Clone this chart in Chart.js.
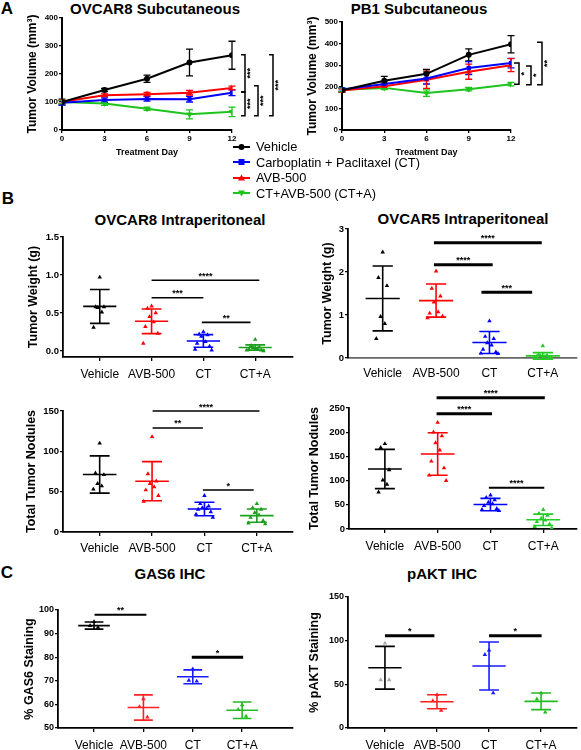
<!DOCTYPE html>
<html>
<head>
<meta charset="utf-8">
<title>AVB-500 tumour models</title>
<script src="https://cdn.jsdelivr.net/npm/chart.js@4.4.1/dist/chart.umd.min.js"></script>
<style>
body { margin: 0; background: #fff; }
#page { position: relative; width: 581px; height: 750px; overflow: hidden; font-family: "Liberation Sans", Arial, sans-serif; color: #000; }
#page canvas { position: absolute; }
.lbl { position: absolute; transform: translate(-50%, -50%); font-weight: bold; white-space: nowrap; line-height: 1; }
.title { font-size: 15px; }
.panel { font-size: 17px; }
#legend { position: absolute; left: 233px; top: 139px; font-size: 12.8px; line-height: 15.5px; z-index: 2; }
#legend div { display: flex; align-items: center; white-space: nowrap; height: 15.5px; }
#legend svg { margin-right: 6px; }
</style>
</head>
<body>
<div id="page">
  <div class="lbl panel" style="left:7px;top:8px">A</div>
  <div class="lbl title" style="left:155px;top:8px">OVCAR8 Subcutaneous</div>
  <div class="lbl title" style="left:419px;top:8px">PB1 Subcutaneous</div>
  <div class="lbl panel" style="left:8px;top:198px">B</div>
  <div class="lbl title" style="left:180px;top:219px">OVCAR8 Intraperitoneal</div>
  <div class="lbl title" style="left:463px;top:218px">OVCAR5 Intraperitoneal</div>
  <div class="lbl panel" style="left:7px;top:572px">C</div>
  <div class="lbl title" style="left:170px;top:573px">GAS6 IHC</div>
  <div class="lbl title" style="left:442px;top:573px">pAKT IHC</div>
  <div id="legend"></div>
  <canvas id="c1"></canvas>
  <canvas id="c2"></canvas>
  <canvas id="c3"></canvas>
  <canvas id="c4"></canvas>
  <canvas id="c5"></canvas>
  <canvas id="c6"></canvas>
  <canvas id="c7"></canvas>
  <canvas id="c8"></canvas>
</div>
<script>
// ---- panel A: subcutaneous growth curves (mean, error) ----
const days = [0, 3, 6, 9, 12];
const scGroups = ['Vehicle', 'Carboplatin + Paclitaxel (CT)', 'AVB-500', 'CT+AVB-500 (CT+A)'];

const ov8ScVehicle = [100, 143, 183, 241, 267];
const ov8ScVehicleErr = [10, 6, 13, 48, 50];
const ov8ScCT = [97, 107, 111, 110, 133];
const ov8ScCTErr = [8, 8, 8, 10, 10];
const ov8ScAVB = [101, 124, 128, 133, 150];
const ov8ScAVBErr = [6, 5, 6, 8, 7];
const ov8ScCTA = [100, 95, 76, 56, 65];
const ov8ScCTAErr = [6, 7, 6, 16, 17];
// [upper value, lower value, label, column]
const ov8ScBrackets = [[269, 136, '***', 0], [136, 51, '***', 0], [158, 51, '***', 1], [269, 51, '***', 2]];

const pb1ScVehicle = [184, 228, 260, 348, 397];
const pb1ScVehicleErr = [8, 20, 20, 28, 40];
const pb1ScCT = [188, 213, 238, 287, 310];
const pb1ScCTErr = [8, 10, 25, 30, 22];
const pb1ScAVB = [183, 203, 233, 270, 300];
const pb1ScAVBErr = [8, 12, 40, 35, 30];
const pb1ScCTA = [186, 195, 171, 189, 212];
const pb1ScCTAErr = [8, 8, 15, 8, 8];
const pb1ScBrackets = [[310, 212, '*', 0], [296, 210, '*', 1], [406, 210, '**', 2]];

// ---- panels B, C: individual animals + mean / SD ----
const ipGroups = ['Vehicle', 'AVB-500', 'CT', 'CT+A'];

const ov8WtVehicle = [0.97, 0.58, 0.58, 0.57, 0.51, 0.31];
const ov8WtAVB = [0.59, 0.56, 0.50, 0.45, 0.38, 0.32, 0.23, 0.10];
const ov8WtCT = [0.25, 0.22, 0.21, 0.19, 0.12, 0.10, 0.06, 0.02, 0.01];
const ov8WtCTA = [0.15, 0.07, 0.05, 0.04, 0.03, 0.02, 0.01, 0.01, 0.00];
const ov8WtMean = [0.586, 0.39, 0.131, 0.045];
const ov8WtSD = [0.223, 0.162, 0.083, 0.035];
// [from group pos, to group pos, y value, label]
const ov8WtSig = [[1.0, 3.08, 0.93, '****'], [1.0, 2.0, 0.70, '***'], [1.97, 2.91, 0.376, '**']];

const ov5WtVehicle = [2.46, 1.87, 1.68, 0.96, 0.80, 0.45];
const ov5WtAVB = [2.02, 1.62, 1.44, 1.30, 1.07, 1.04, 0.97, 0.93];
const ov5WtCT = [0.86, 0.50, 0.45, 0.35, 0.30, 0.20, 0.14, 0.11, 0.10];
const ov5WtCTA = [0.28, 0.08, 0.06, 0.05, 0.04, 0.03, 0.02, 0.01, 0.00];
const ov5WtMean = [1.385, 1.335, 0.36, 0.05];
const ov5WtSD = [0.755, 0.385, 0.255, 0.075];
const ov5WtSig = [[0.96, 2.98, 2.68, '****'], [0.96, 2.06, 2.17, '****'], [1.85, 2.8, 1.53, '***']];

const ov8NodVehicle = [110, 73, 71, 60, 57, 53];
const ov8NodAVB = [118, 72, 63, 60, 56, 52, 45, 38];
const ov8NodCT = [45, 35, 32, 30, 29, 28, 25, 22, 18];
const ov8NodCTA = [35, 30, 28, 24, 21, 18, 14, 11, 10];
const ov8NodMean = [71.3, 63, 28.5, 20.3];
const ov8NodSD = [23.1, 24.3, 8.3, 8.2];
const ov8NodSig = [[1.01, 3.05, 150, '****'], [1.01, 1.97, 129, '**'], [1.97, 2.94, 52, '*']];

const ov5NodVehicle = [176, 168, 122, 101, 92, 76];
const ov5NodAVB = [220, 200, 192, 178, 163, 140, 126, 111, 100];
const ov5NodCT = [70, 65, 60, 55, 52, 48, 42, 40, 38];
const ov5NodCTA = [40, 32, 28, 22, 18, 15, 10, 5, 2];
const ov5NodMean = [124, 155, 50.5, 19];
const ov5NodSD = [40.5, 44, 12.7, 11.7];
const ov5NodSig = [[0.98, 3.03, 271, '****'], [0.98, 2.03, 238, '****'], [1.97, 3.02, 85, '****']];

const gasVehicle = [95.0, 93.3, 92.6];
const gasAVB = [62.3, 59.0, 54.6];
const gasCT = [75.0, 70.2, 69.8];
const gasCTA = [59.8, 57.8, 54.9];
const gasMean = [93.4, 58.7, 71.7, 57.5];
const gasSD = [1.5, 5.35, 2.95, 3.5];
const gasSig = [[0.01, 1.06, 98, '**'], [1.98, 3.02, 80, '*']];

const aktVehicle = [97, 55, 55];
const aktAVB = [38, 31, 20];
const aktCT = [89, 84, 40];
const aktCTA = [40, 33, 18];
const aktMean = [69, 30, 71, 30.5];
const aktSD = [24.5, 8, 27.5, 9.5];
const aktSig = [[0, 0.95, 105.6, '*'], [2.0, 3.01, 105.6, '*']];

// ---- styles ----
const FONT = '"Liberation Sans", Arial, sans-serif';
Chart.defaults.font.family = FONT;
Chart.defaults.color = '#000';
Chart.defaults.animation = false;

const scColors = ['#000000', '#0000ff', '#ff0000', '#1cc41c'];
const scMarkers = ['circle', 'rect', 'triangle', 'triangle'];
const spread = [0, -0.08, 0.08, -0.04, 0.04, -0.12, 0.12, -0.16, 0.16];

function fixW(w) { return function (s) { s.width = w; }; }
function fixH(h) { return function (s) { s.height = h; }; }

function place(id, left, top, w, h) {
    const c = document.getElementById(id);
    c.width = w;
    c.height = h;
    c.style.left = left + 'px';
    c.style.top = top + 'px';
    return c;
}

function errorBars(errs) {
    return {
        id: 'errorBars',
        beforeDatasetsDraw(chart) {
            const ctx = chart.ctx, x = chart.scales.x, y = chart.scales.y;
            chart.data.datasets.forEach((ds, k) => {
                ctx.save();
                ctx.strokeStyle = ds.borderColor;
                ctx.lineWidth = 1.3;
                ds.data.forEach((p, i) => {
                    const px = x.getPixelForValue(p.x);
                    const top = y.getPixelForValue(p.y + errs[k][i]);
                    const bot = y.getPixelForValue(p.y - errs[k][i]);
                    ctx.beginPath();
                    ctx.moveTo(px, top); ctx.lineTo(px, bot);
                    ctx.moveTo(px - 3.5, top); ctx.lineTo(px + 3.5, top);
                    ctx.moveTo(px - 3.5, bot); ctx.lineTo(px + 3.5, bot);
                    ctx.stroke();
                });
                ctx.restore();
            });
        }
    };
}

function brackets(list, cols, tick) {
    return {
        id: 'brackets',
        afterDraw(chart) {
            const ctx = chart.ctx, y = chart.scales.y, right = chart.chartArea.right;
            ctx.save();
            ctx.strokeStyle = '#000';
            ctx.fillStyle = '#000';
            ctx.lineWidth = 1.5;
            ctx.font = 'bold 9px ' + FONT;
            ctx.textAlign = 'center';
            ctx.textBaseline = 'middle';
            list.forEach(([hi, lo, label, col]) => {
                const bx = right + cols[col];
                const t = y.getPixelForValue(hi), b = y.getPixelForValue(lo);
                ctx.beginPath();
                ctx.moveTo(bx - tick, t); ctx.lineTo(bx, t); ctx.lineTo(bx, b); ctx.lineTo(bx - tick, b);
                ctx.stroke();
                ctx.save();
                ctx.translate(bx + 6, (t + b) / 2);
                ctx.rotate(-Math.PI / 2);
                ctx.fillText(label, 0, 0);
                ctx.restore();
            });
            ctx.restore();
        }
    };
}

function growthChart(id, box, series, errs, yMax, list, cols, tick) {
    const c = place(id, box.left, box.top, box.w, box.h);
    const datasets = series.map((s, k) => ({
        label: scGroups[k],
        data: days.map((d, i) => ({ x: d, y: s[i] })),
        showLine: true,
        borderColor: scColors[k],
        backgroundColor: scColors[k],
        borderWidth: 2,
        pointStyle: scMarkers[k],
        pointRotation: k === 3 ? 180 : 0,
        pointRadius: k >= 2 ? 3.6 : 3,
        pointBorderWidth: 0
    }));
    new Chart(c, {
        type: 'scatter',
        data: { datasets: datasets },
        options: {
            responsive: false,
            layout: { padding: { top: 10, right: box.pr, left: 0, bottom: 0 } },
            plugins: { legend: { display: false }, tooltip: { enabled: false } },
            scales: {
                x: {
                    type: 'linear', min: 0, max: 12, afterFit: fixH(box.xh),
                    ticks: { stepSize: 3, font: { size: 8, weight: 'bold' }, padding: 1, color: '#000' },
                    grid: { drawOnChartArea: false, tickLength: 3, color: '#000', lineWidth: 1.3 },
                    border: { color: '#000', width: 2 },
                    title: { display: true, text: 'Treatment Day', font: { size: 9, weight: 'bold' }, padding: 0, color: '#000' }
                },
                y: {
                    min: 0, max: yMax, afterFit: fixW(box.yw),
                    ticks: { stepSize: 100, font: { size: 8, weight: 'bold' }, padding: 1, color: '#000' },
                    grid: { drawOnChartArea: false, tickLength: 3, color: '#000', lineWidth: 1.3 },
                    border: { color: '#000', width: 2 },
                    title: { display: true, text: 'Tumor Volume (mm³)', font: { size: 12, weight: 'bold' }, padding: 0, color: '#000' }
                }
            }
        },
        plugins: [errorBars(errs), brackets(list, cols, tick)]
    });
}

function meanSd(mean, sd, lineColors, sigs, sigWidths) {
    return {
        id: 'meanSd',
        afterDatasetsDraw(chart) {
            const ctx = chart.ctx, x = chart.scales.x, y = chart.scales.y;
            ctx.save();
            ctx.lineWidth = 1.6;
            mean.forEach((m, i) => {
                const cx = x.getPixelForValue(i);
                const hw = x.getPixelForValue(i + 0.32) - cx;
                const cw = x.getPixelForValue(i + 0.19) - cx;
                const ym = y.getPixelForValue(m);
                const yt = y.getPixelForValue(m + sd[i]);
                const yb = y.getPixelForValue(m - sd[i]);
                ctx.strokeStyle = lineColors[i];
                ctx.beginPath();
                ctx.moveTo(cx - hw, ym); ctx.lineTo(cx + hw, ym);
                ctx.moveTo(cx, yt); ctx.lineTo(cx, yb);
                ctx.moveTo(cx - cw, yt); ctx.lineTo(cx + cw, yt);
                ctx.moveTo(cx - cw, yb); ctx.lineTo(cx + cw, yb);
                ctx.stroke();
            });
            ctx.strokeStyle = '#000';
            ctx.fillStyle = '#000';
            ctx.font = 'bold 9px ' + FONT;
            ctx.textAlign = 'center';
            ctx.textBaseline = 'alphabetic';
            sigs.forEach(([a, b, v, label], k) => {
                const x1 = x.getPixelForValue(a), x2 = x.getPixelForValue(b), py = y.getPixelForValue(v);
                ctx.lineWidth = sigWidths[k];
                ctx.beginPath();
                ctx.moveTo(x1, py); ctx.lineTo(x2, py);
                ctx.stroke();
                ctx.fillText(label, (x1 + x2) / 2, py - 1.5);
            });
            ctx.restore();
        }
    };
}

function dotChart(cfg) {
    const c = place(cfg.id, cfg.left, cfg.top, cfg.w, cfg.h);
    const datasets = cfg.values.map((vals, i) => ({
        data: vals.map((v, k) => ({ x: i + spread[k % spread.length], y: v })),
        pointStyle: 'triangle',
        pointRadius: 2.6,
        backgroundColor: cfg.pointColors[i],
        borderWidth: 0
    }));
    new Chart(c, {
        type: 'scatter',
        data: { datasets: datasets },
        options: {
            responsive: false,
            layout: { padding: { top: cfg.pt, right: cfg.pr, left: 0, bottom: 0 } },
            plugins: { legend: { display: false }, tooltip: { enabled: false } },
            scales: {
                x: {
                    type: 'linear', min: cfg.xMin, max: cfg.xMax, afterFit: fixH(cfg.xh),
                    afterBuildTicks: s => { s.ticks = ipGroups.map((g, i) => ({ value: i })); },
                    ticks: { callback: (v, i) => ipGroups[i], font: { size: 12 }, padding: cfg.xPad, autoSkip: false, maxRotation: 0, color: '#000' },
                    grid: { drawOnChartArea: false, drawTicks: cfg.xTicks, tickLength: 4, color: '#000', lineWidth: 1.3 },
                    border: { color: cfg.xBorder || '#000', width: 1.8, dash: cfg.xDash || [] }
                },
                y: {
                    min: cfg.yMin, max: cfg.yMax, afterFit: fixW(cfg.yw),
                    afterBuildTicks: s => { s.ticks = cfg.yTicks.map(v => ({ value: v })); },
                    ticks: { callback: cfg.yFmt || (v => v), font: { size: cfg.tickSize, weight: 'bold' }, padding: 1, color: '#000' },
                    grid: { drawOnChartArea: false, tickLength: 3, color: '#000', lineWidth: 1.3 },
                    border: { color: '#000', width: 1.8 },
                    title: { display: true, text: cfg.yTitle, font: { size: 12.5, weight: 'bold' }, padding: 0, color: '#000' }
                }
            }
        },
        plugins: [meanSd(cfg.mean, cfg.sd, cfg.lineColors, cfg.sigs, cfg.sigWidths)]
    });
}

// ---- legend (panel A) ----
function markerSvg(k) {
    const col = scColors[k];
    let shape;
    if (k === 0) shape = '<circle cx="8.5" cy="5" r="3" fill="' + col + '"/>';
    else if (k === 1) shape = '<rect x="5.5" y="2" width="6" height="6" fill="' + col + '"/>';
    else if (k === 2) shape = '<polygon points="8.5,1.5 12,7.5 5,7.5" fill="' + col + '"/>';
    else shape = '<polygon points="8.5,8.5 12,2.5 5,2.5" fill="' + col + '"/>';
    return '<svg width="17" height="10"><line x1="0" y1="5" x2="17" y2="5" stroke="' + col + '" stroke-width="2"/>' + shape + '</svg>';
}
const legend = document.getElementById('legend');
scGroups.forEach((g, k) => {
    const row = document.createElement('div');
    row.innerHTML = markerSvg(k) + '<span>' + g + '</span>';
    legend.appendChild(row);
});

// ---- charts ----
growthChart('c1', { left: 25, top: 8, w: 265, h: 150, pr: 58, yw: 37, xh: 28 },
    [ov8ScVehicle, ov8ScCT, ov8ScAVB, ov8ScCTA],
    [ov8ScVehicleErr, ov8ScCTErr, ov8ScAVBErr, ov8ScCTAErr],
    400, ov8ScBrackets, [13, 26, 41], 4);

growthChart('c2', { left: 305, top: 12, w: 276, h: 146, pr: 70, yw: 37, xh: 28 },
    [pb1ScVehicle, pb1ScCT, pb1ScAVB, pb1ScCTA],
    [pb1ScVehicleErr, pb1ScCTErr, pb1ScAVBErr, pb1ScCTAErr],
    500, pb1ScBrackets, [8, 20, 31], 5);

const bColors = ['#000000', '#ff0000', '#0000ff', '#1e9e1e'];
const b2Colors = ['#000000', '#ff0000', '#0000ff', '#22cc22'];
const cColors = ['#000000', '#ff2020', '#1a1aff', '#22bb22'];

dotChart({ id: 'c3', left: 26, top: 227, w: 272, h: 160, pt: 10, pr: 5, yw: 37, xh: 30,
    xMin: -0.71, xMax: 3.73, yMin: -0.08, yMax: 1.5, yTicks: [0, 0.5, 1, 1.5], yFmt: v => v.toFixed(1),
    xPad: 6, xTicks: true, tickSize: 9.5, yTitle: 'Tumor Weight (g)',
    values: [ov8WtVehicle, ov8WtAVB, ov8WtCT, ov8WtCTA], mean: ov8WtMean, sd: ov8WtSD,
    pointColors: bColors, lineColors: bColors, sigs: ov8WtSig, sigWidths: [1.6, 1.6, 1.6] });

dotChart({ id: 'c4', left: 320, top: 219, w: 261, h: 169, pt: 10, pr: 4, yw: 28, xh: 30,
    xMin: -0.65, xMax: 3.64, yMin: 0, yMax: 3, yTicks: [0, 1, 2, 3],
    xPad: 8, xTicks: false, xDash: [2, 2], xBorder: '#666', tickSize: 9.5, yTitle: 'Tumor Weight (g)',
    values: [ov5WtVehicle, ov5WtAVB, ov5WtCT, ov5WtCTA], mean: ov5WtMean, sd: ov5WtSD,
    pointColors: b2Colors, lineColors: b2Colors, sigs: ov5WtSig, sigWidths: [3, 3, 3] });

dotChart({ id: 'c5', left: 24, top: 396, w: 274, h: 164, pt: 15, pr: 5, yw: 39, xh: 28,
    xMin: -0.70, xMax: 3.69, yMin: 0, yMax: 150, yTicks: [0, 50, 100, 150],
    xPad: 5, xTicks: true, tickSize: 9.5, yTitle: 'Total Tumor Nodules',
    values: [ov8NodVehicle, ov8NodAVB, ov8NodCT, ov8NodCTA], mean: ov8NodMean, sd: ov8NodSD,
    pointColors: bColors, lineColors: bColors, sigs: ov8NodSig, sigWidths: [1.6, 1.6, 1.6] });

dotChart({ id: 'c6', left: 307, top: 385, w: 274, h: 172, pt: 23, pr: 4, yw: 42, xh: 28,
    xMin: -0.68, xMax: 3.64, yMin: 0, yMax: 250, yTicks: [0, 50, 100, 150, 200, 250],
    xPad: 6, xTicks: true, tickSize: 9.5, yTitle: 'Total Tumor Nodules',
    values: [ov5NodVehicle, ov5NodAVB, ov5NodCT, ov5NodCTA], mean: ov5NodMean, sd: ov5NodSD,
    pointColors: b2Colors, lineColors: b2Colors, sigs: ov5NodSig, sigWidths: [3, 3, 2] });

dotChart({ id: 'c7', left: 22, top: 598, w: 276, h: 152, pt: 12, pr: 5, yw: 36, xh: 22,
    xMin: -0.73, xMax: 4.03, yMin: 50, yMax: 100, yTicks: [50, 60, 70, 80, 90, 100],
    xPad: 6, xTicks: true, tickSize: 9, yTitle: '% GAS6 Staining',
    values: [gasVehicle, gasAVB, gasCT, gasCTA], mean: gasMean, sd: gasSD,
    pointColors: cColors, lineColors: cColors, sigs: gasSig, sigWidths: [2, 3] });

dotChart({ id: 'c8', left: 307, top: 585, w: 274, h: 165, pt: 12, pr: 0, yw: 41, xh: 22,
    xMin: -0.71, xMax: 3.69, yMin: 0, yMax: 150, yTicks: [0, 50, 100, 150],
    xPad: 6, xTicks: true, tickSize: 9, yTitle: '% pAKT Staining',
    values: [aktVehicle, aktAVB, aktCT, aktCTA], mean: aktMean, sd: aktSD,
    pointColors: ['#aaaaaa', '#ff2020', '#1a1aff', '#22bb22'], lineColors: cColors, sigs: aktSig, sigWidths: [3, 3] });
</script>
</body>
</html>
